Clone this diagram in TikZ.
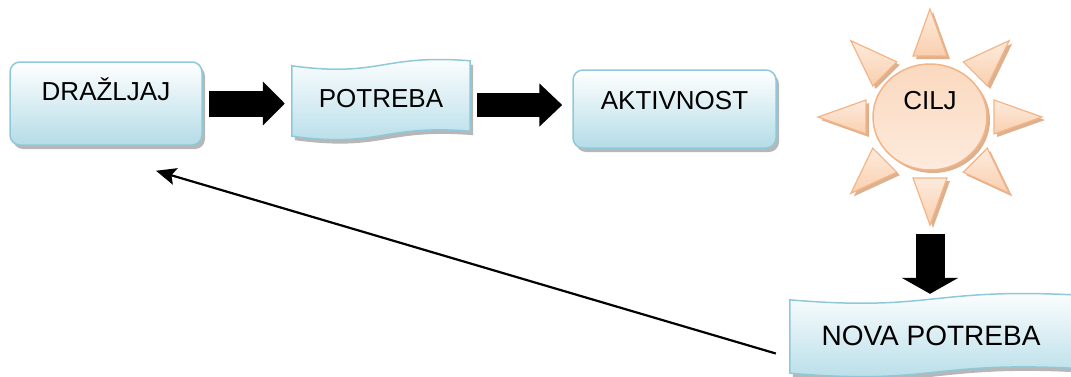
\documentclass[tikz,border=0pt]{standalone}
\usepackage{fontspec}
\setmainfont{Liberation Sans}
\usetikzlibrary{arrows.meta,shadows,shapes.geometric,calc,backgrounds}

\definecolor{boxline}{HTML}{8FC9D9}
\definecolor{boxlow}{HTML}{B4DCE7}
\definecolor{sunline}{HTML}{F4B487}
\definecolor{suntop}{HTML}{FDEBDD}
\definecolor{sunlow}{HTML}{F9CFAE}
\definecolor{sunshadow}{HTML}{D49C72}

\tikzset{
  boxshadow/.style={drop shadow={shadow xshift=3pt, shadow yshift=-4pt, fill=gray!80, opacity=0.7}},
  roundbox/.style={draw=boxline, line width=1.5pt, rounded corners=10pt, top color=white, bottom color=boxlow, boxshadow, inner sep=0pt, font=\fontsize{26}{30}\selectfont},
  wavetext/.style={inner sep=0pt, font=\fontsize{26}{30}\selectfont},
  wavebox/.style={draw=boxline, line width=1.5pt, top color=white, bottom color=boxlow, boxshadow},
  sunball/.style={ellipse, draw=sunline, line width=1.5pt, top color=sunlow!80!white, bottom color=suntop, inner sep=0pt, drop shadow={shadow xshift=3pt, shadow yshift=-3pt, fill=sunshadow, opacity=0.8}, font=\fontsize{26}{30}\selectfont},
  ray/.style={draw=sunline, line width=1.2pt, top color=suntop, bottom color=sunlow, drop shadow={shadow xshift=3pt, shadow yshift=-3pt, fill=sunshadow, opacity=0.8}},
  blockarrow/.style={line width=#1, draw=black},
  backarrow/.style={line width=2.2pt, -{Stealth[length=20pt, width=17pt, inset=4pt]}}
}

% wavy box behind a named node
\newcommand{\drawwave}[1]{%
  \begin{pgfonlayer}{background}
    \path[wavebox] (#1.north west) .. controls ($(#1.north)+(0,12)$) and ($(#1.north)+(0,-12)$) .. ($(#1.north east)+(0,-5)$)
      -- ($(#1.south east)+(0,-5)$) .. controls ($(#1.south)+(0,-12)$) and ($(#1.south)+(0,12)$) .. (#1.south west) -- cycle;
  \end{pgfonlayer}}

\begin{document}
\begin{tikzpicture}[x=1pt, y=-1pt]
    \useasboundingbox (0,0) rectangle (1071,376);

    % Boxes
    \node[roundbox, minimum width=192pt, text height=38pt, text depth=45pt] (drazljaj) at (106,103.5) {DRAŽLJAJ};
    \node[wavetext, minimum width=178pt, text height=41pt, text depth=29pt] (potreba) at (381,101) {POTREBA};
    \drawwave{potreba}
    \node[roundbox, minimum width=203pt, text height=39pt, text depth=39pt] (aktivnost) at (674.5,109) {AKTIVNOST};

    % Sun
    \node[sunball, minimum width=114pt, minimum height=106pt, text height=10pt, text depth=26pt] (cilj) at (930,117) {CILJ};
    \foreach \a in {0,45,...,315}
        \path[ray] ($(cilj.center)+(\a:64pt and 61pt)+(\a+90:17pt)$) -- ($(cilj.center)+(\a:112pt and 108pt)$)
            -- ($(cilj.center)+(\a:64pt and 61pt)+(\a-90:17pt)$) -- cycle;

    % New need
    \node[wavetext, font=\fontsize{28}{32}\selectfont, minimum width=282pt, text height=45pt, text depth=28pt] (nova) at (931,336.5) {NOVA POTREBA};
    \drawwave{nova}

    % Block arrows
    \draw[blockarrow=26pt, -{Triangle[length=22pt, width=43pt]}, shorten <=6pt, shorten >=7pt]
        (drazljaj.east) -- (drazljaj.east -| potreba.west);
    \draw[blockarrow=24pt, -{Triangle[length=23pt, width=42pt]}, shorten <=7pt, shorten >=10pt]
        ([yshift=-4pt]potreba.east) -- ([yshift=-4pt]potreba.east -| aktivnost.west);
    \draw[blockarrow=29pt, -{Triangle[length=16pt, width=56pt]}, shorten <=63pt, shorten >=6pt]
        (cilj.south) -- (cilj.south |- nova.north);

    % Back to the start
    \draw[backarrow] ($(nova.west)+(-14,17)$) -- ($(drazljaj.south)+(50,25)$);
\end{tikzpicture}
\end{document}
